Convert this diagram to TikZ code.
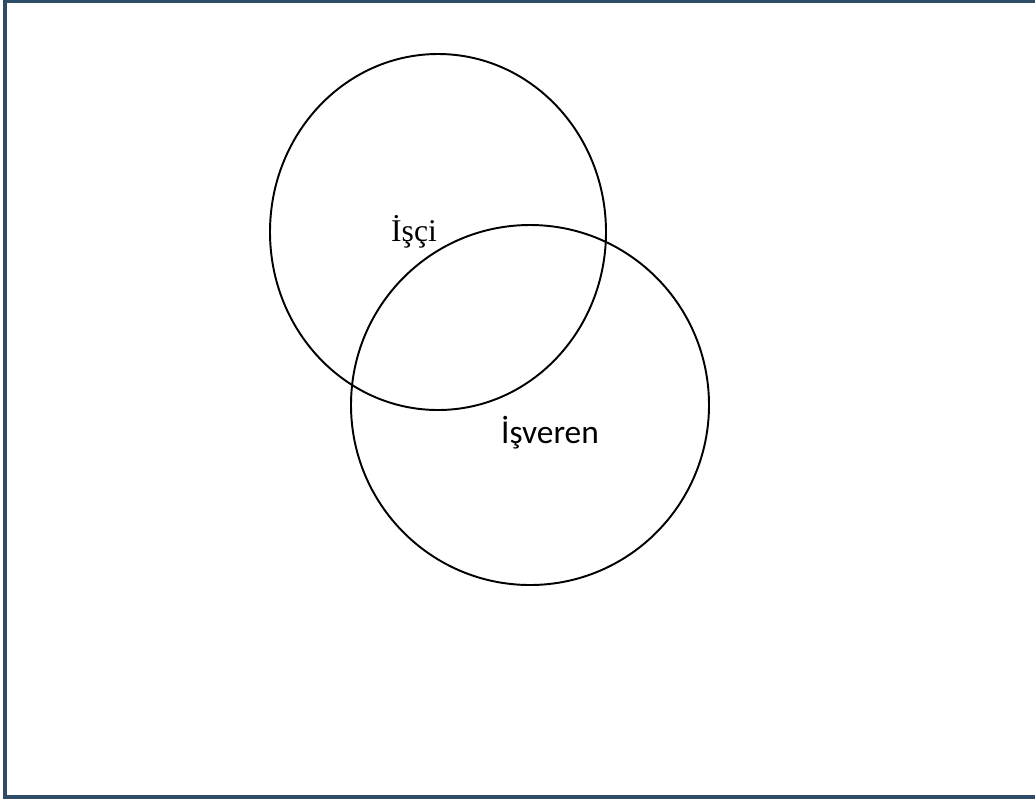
\documentclass[tikz,border=0pt]{standalone}
\usepackage{fontspec}
\setmainfont{Liberation Serif}
\newfontfamily\calibrifont{Carlito}
\usetikzlibrary{calc,math,positioning}

\definecolor{framecol}{HTML}{2E4B68}

\begin{document}
\begin{tikzpicture}[x=0.02cm,y=-0.02cm,
 set line/.style={line width=1.1pt},
 set label/.style={inner sep=0pt, anchor=base}]

 \useasboundingbox (0,0) rectangle (1035,802);
 \draw [framecol, line width=1.8pt] (5,1) rectangle (1050,797);

         \tikzmath{
            coordinate \p, \q;
            \p = (438, 232);
            \q = (530, 405);
        }
  \coordinate (P) at (\p);
  \coordinate (Q) at (\q);

  % the two sets
  \draw [set line] (P) ellipse [x radius=168, y radius=178];
  \draw [set line] (Q) ellipse [x radius=179, y radius=180];

  \node (isci) [set label, font=\fontsize{18}{21}\selectfont] at (414,241) {İşçi};
  \node (isveren) [set label, font=\calibrifont\fontsize{19}{22}\selectfont] at (550,443) {İşveren};

\end{tikzpicture}
\end{document}
